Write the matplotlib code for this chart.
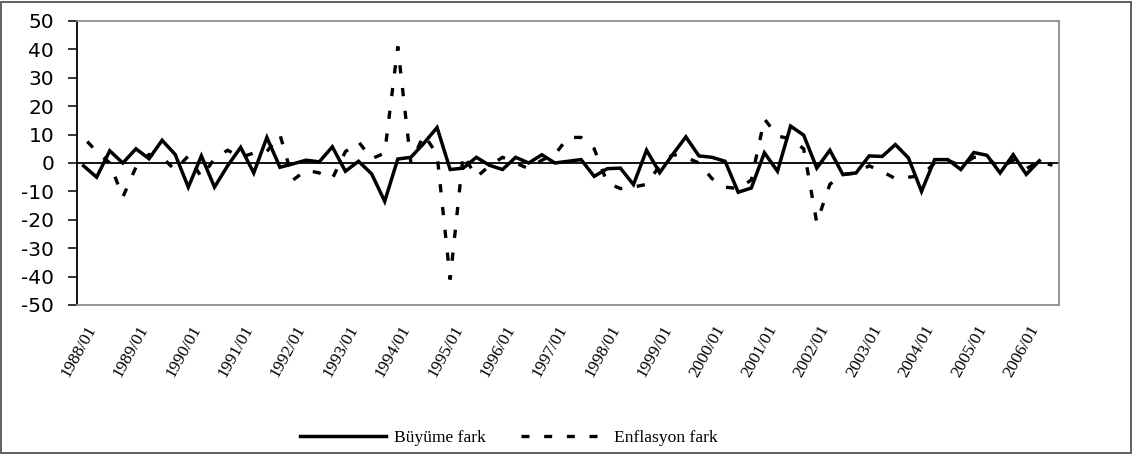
import numpy as np
import matplotlib
matplotlib.use("Agg")
import matplotlib.pyplot as plt
import matplotlib.transforms as mtransforms
from matplotlib.patches import Rectangle

# ---- data (quarterly, 1988/01 ... ) ----
buyume_fark = [
    -1, -5, 4.3, 0, 5, 1.5, 8, 3, -8.5, 2.5,
    -8.5, -1, 5.5, -3.5, 9, -1.5, -0.3, 1, 0.4, 5.7,
    -2.9, 0.6, -3.8, -13.5, 1.4, 2, 7, 12.5, -2.3, -1.8,
    2, -0.8, -2.3, 2, 0, 2.9, 0, 0.6, 1.2, -4.7,
    -2, -1.8, -7.6, 4.5, -3.4, 3, 9.2, 2.5, 2, 0.6,
    -10.3, -8.8, 3.6, -2.9, 13, 9.8, -1.8, 4.5, -4.1, -3.5,
    2.5, 2.3, 6.5, 1.8, -10, 1.2, 1.2, -2.3, 3.7, 2.7,
    -3.5, 2.9, -4, 0.8,
]
enflasyon_fark = [
    9, 4, 0, -12, -1.5, 3, 2, -2.5, 2.5, -5,
    1.5, 4.5, 2, 3.5, 4, 10, -6, -2.5, -3.5, -5.5,
    4, 7.5, 1.5, 3.5, 41, 0, 10, 3, -41, 3,
    -5, -1, 2, 0, -2, 1, 3, 9, 9, 5,
    -7, -9, -8.5, -7.5, -1, 3, 2, 0, -5.5, -8.5,
    -9, -6, 15.5, 9.5, 8.5, 5, -21, -7.5, -4, -3.5,
    -1, -3, -5.5, -5, -4.5, 0, 1, -1, 2, 2,
    -2, 1, -2, 0.5, -0.8,
]
year_labels = ["1988/01", "1989/01", "1990/01", "1991/01", "1992/01", "1993/01",
               "1994/01", "1995/01", "1996/01", "1997/01", "1998/01", "1999/01",
               "2000/01", "2001/01", "2002/01", "2003/01", "2004/01", "2005/01",
               "2006/01"]
y_ticks = [-50, -40, -30, -20, -10, 0, 10, 20, 30, 40, 50]
series_names = ["Büyüme fark", "Enflasyon fark"]

W, H, DPI = 1134, 455, 100
fig = plt.figure(figsize=(W / DPI, H / DPI), dpi=DPI)
fig.patch.set_facecolor("white")

L, R, T, B = 77, 1059, 21, 305
ax = fig.add_axes([L / W, 1 - B / H, (R - L) / W, (B - T) / H])

n_cat = len(enflasyon_fark)
ax.set_xlim(-0.5, n_cat - 0.5)
ax.set_ylim(-50, 50)

# ---- dash pattern phased so that the two big spikes show a dash at the tip ----
LW_D = 2.4                      # points
px2pt = 72.0 / DPI
xs = np.arange(n_cat)
pts = ax.transData.transform(np.column_stack([xs, enflasyon_fark]))
seg = np.hypot(np.diff(pts[:, 0]), np.diff(pts[:, 1]))
cum = np.concatenate([[0], np.cumsum(seg)]) * px2pt      # arc length in points
i_hi = int(np.argmax(enflasyon_fark))
i_lo = int(np.argmin(enflasyon_fark))
span = cum[i_lo] - cum[i_hi]
period = span / max(1, round(span / (22.7 * px2pt)))
on = period * 0.36
off_ = period - on
offset = (on / 2 - cum[i_hi]) % period
dash_style = (offset / LW_D, (on / LW_D, off_ / LW_D))

ax.plot(range(len(buyume_fark)), buyume_fark, color="black", lw=2.5,
        solid_joinstyle="miter", label=series_names[0], zorder=4)
ax.plot(xs, enflasyon_fark, color="black", lw=LW_D, linestyle=dash_style,
        dash_capstyle="butt", dash_joinstyle="miter", label=series_names[1], zorder=3)

ax.axhline(0, color="black", lw=1.3, zorder=2)

# y axis
ax.set_yticks(y_ticks)
ax.set_yticklabels([str(v) for v in y_ticks], fontfamily="DejaVu Sans", fontsize=14.5)
ax.tick_params(axis="y", direction="out", length=6.5, width=1.1, pad=10, color="black")

# x axis
xt = list(range(0, 4 * len(year_labels), 4))
ax.set_xticks(xt)
ax.set_xticklabels(year_labels, rotation=61, ha="right", va="center",
                   rotation_mode="anchor", fontfamily="Liberation Serif", fontsize=12.5)
ax.tick_params(axis="x", length=0, pad=15)
offx = mtransforms.ScaledTranslation(0.09, 0, fig.dpi_scale_trans)
for lbl in ax.get_xticklabels():
    lbl.set_transform(lbl.get_transform() + offx)

for s in ["top", "right", "bottom"]:
    ax.spines[s].set_color("#8c8c8c")
    ax.spines[s].set_linewidth(1.3)
ax.spines["left"].set_color("black")
ax.spines["left"].set_linewidth(1.3)

leg = fig.legend(loc="center", bbox_to_anchor=(509 / W, 1 - 438 / H), ncol=2,
                 frameon=False, handlelength=4.9, handletextpad=0.45,
                 columnspacing=2.0, prop={"family": "Liberation Serif", "size": 12.6})
leg.get_lines()[1].set_linestyle((0, (2.4, 4.4)))

fig.patches.append(Rectangle((1 / W, 2 / H), (W - 4) / W, (H - 3.5) / H,
                             transform=fig.transFigure, fill=False,
                             edgecolor="#555555", lw=1.3))

fig.savefig("out.png", dpi=DPI, facecolor="white")
